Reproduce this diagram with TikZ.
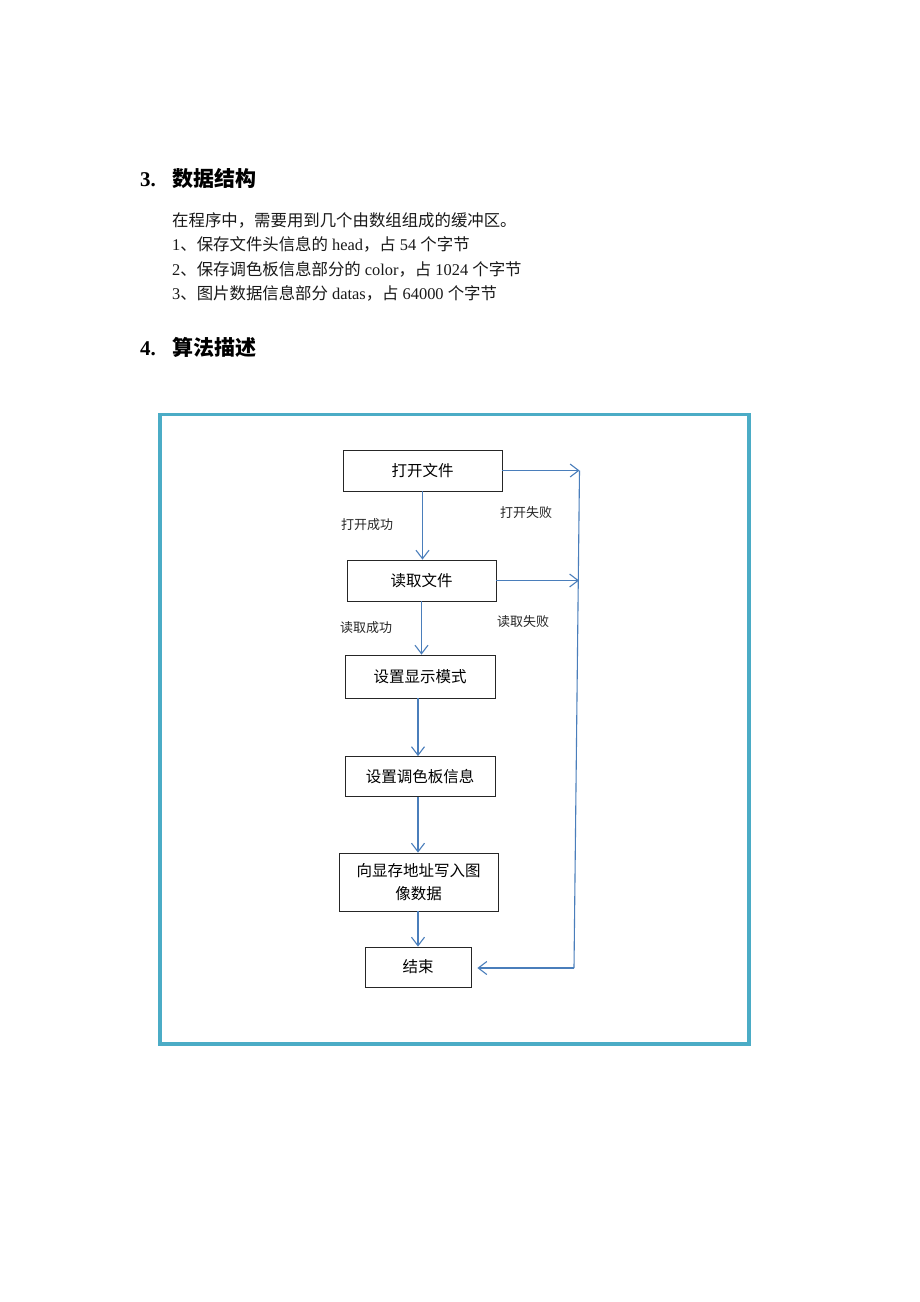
\documentclass[tikz,border=0pt]{standalone}
\usepackage{fontspec}
\setmainfont{Liberation Serif}
\newfontfamily\cjk{Noto Sans CJK SC}
\usetikzlibrary{arrows.meta}
\definecolor{frameteal}{HTML}{4BACC6}
\definecolor{arrblue}{HTML}{4A7EBB}
\tikzset{
  stepbox/.style={draw=black!85, line width=0.8pt, inner sep=0pt, align=center,
    font=\cjk\fontsize{15.5pt}{23pt}\selectfont},
  lbl/.style={inner sep=0pt, font=\cjk\fontsize{13pt}{16pt}\selectfont, text=black!85},
  arr/.style={draw=arrblue, line width=1.1pt, -{Straight Barb[length=8.5pt,width=13pt,line width=1.1pt]}},
  plainln/.style={draw=arrblue, line width=1.1pt},
  body/.style={anchor=base west, inner sep=0pt, font=\fontsize{16.4pt}{20pt}\selectfont, text=black!90},
  head/.style={anchor=base west, inner sep=0pt, font=\bfseries\fontsize{21pt}{25pt}\selectfont}
}
\begin{document}
\begin{tikzpicture}[x=1pt,y=-1pt]
\useasboundingbox (0,0) rectangle (920,1302);
\fill[white] (0,0) rectangle (920,1302);

% headings and body text
\node[head] (h3) at (140,186) {\makebox[32pt][l]{3.}{\cjk\bfseries 数据结构}};
\node[body] (t1) at (172,226) {{\cjk 在程序中，需要用到几个由数组组成的缓冲区。}};
\node[body] (t2) at (172,250) {1{\cjk 、保存文件头信息的} head{\cjk ，占} 54 {\cjk 个字节}};
\node[body] (t3) at (172,275) {2{\cjk 、保存调色板信息部分的} color{\cjk ，占} 1024 {\cjk 个字节}};
\node[body] (t4) at (172,299) {3{\cjk 、图片数据信息部分} datas{\cjk ，占} 64000 {\cjk 个字节}};
\node[head] (h4) at (140,355) {\makebox[32pt][l]{4.}{\cjk\bfseries 算法描述}};

% frame
\draw[frameteal, line width=3.2pt] (160,414.5) rectangle (749,1044);

% flowchart boxes
\node[stepbox, minimum width=159pt, minimum height=41pt] (open) at (422.5,470.5) {打开文件};
\node[stepbox, minimum width=149pt, minimum height=41pt] (read) at (421.5,580.5) {读取文件};
\node[stepbox, minimum width=150pt, minimum height=43pt] (mode) at (420,676.5) {设置显示模式};
\node[stepbox, minimum width=150pt, minimum height=40pt] (pal) at (420,776.5) {设置调色板信息};
\node[stepbox, minimum width=159pt, minimum height=58pt] (write) at (418.5,882) {向显存地址写入图\\像数据};
\node[stepbox, minimum width=106pt, minimum height=40pt] (end) at (418,967) {结束};

% labels
\node[lbl] (l1) at (367,525) {打开成功};
\node[lbl] (l2) at (526,513) {打开失败};
\node[lbl] (l3) at (366,628) {读取成功};
\node[lbl] (l4) at (523,622) {读取失败};

% vertical arrows
\draw[arr] (open.south) -- (open.south |- read.north);
\draw[arr] (read.south) -- (read.south |- mode.north);
\draw[arr] ([xshift=-2pt]mode.south) -- ([xshift=-2pt]mode.south |- pal.north);
\draw[arr] ([xshift=-2pt]pal.south) -- ([xshift=-2pt]pal.south |- write.north);
\draw[arr] ([xshift=-0.5pt]write.south) -- ([xshift=-0.5pt]write.south |- end.north);

% failure path
\coordinate (c1) at (579.5,470.5);
\coordinate (c2) at (579,580.5);
\coordinate (c3) at (574,968);
\draw[arr] (open.east) -- (c1);
\draw[arr] (read.east) -- (c2);
\draw[plainln] (c1) -- (c3);
\draw[arr, shorten >=6pt] (c3) -- (c3 -| end.east);
\end{tikzpicture}
\end{document}
